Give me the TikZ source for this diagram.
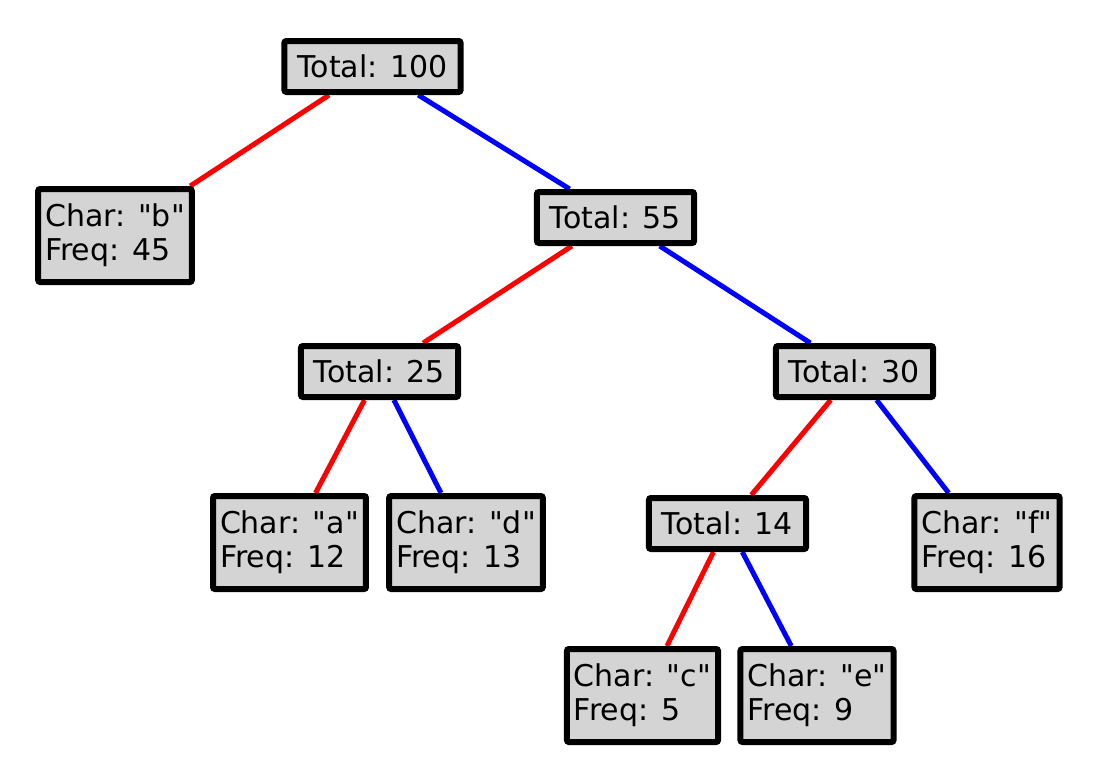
\documentclass[tikz,border=0pt]{standalone}
\usepackage{fontspec}
\setmainfont{DejaVu Sans}
\usepackage{tikz}
\usetikzlibrary{backgrounds}
\usepackage{xcolor}
\newcommand{\dq}{\textquotedbl}
\tikzset{
  box/.style={draw=black, fill=black!17, line width=6pt, rounded corners=2pt, align=left, inner xsep=7pt, font=\fontsize{30}{34}\selectfont},
  totalbox/.style={box, inner xsep=13pt, minimum height=51pt},
  leafbox/.style={box, minimum height=93pt},
  zeroedge/.style={draw=red, line width=5pt},
  oneedge/.style={draw=blue, line width=5pt}
}

\begin{document}
\begin{tikzpicture}[x=1pt, y=-1pt]
\useasboundingbox (0,0) rectangle (1098,780);
\node[totalbox] (total100) at (372.5,66.5) {Total: 100};
\node[leafbox] (charb) at (115,235.5) {Char: \dq b\dq\\Freq: 45};
\node[totalbox] (total55) at (615.5,217.5) {Total: 55};
\node[totalbox] (total25) at (379.5,371.5) {Total: 25};
\node[totalbox] (total30) at (854.5,371.5) {Total: 30};
\node[leafbox] (chara) at (289.5,542.5) {Char: \dq a\dq\\Freq: 12};
\node[leafbox] (chard) at (466,542.5) {Char: \dq d\dq\\Freq: 13};
\node[totalbox] (total14) at (727.5,523.5) {Total: 14};
\node[leafbox] (charf) at (987,542.5) {Char: \dq f\dq\\Freq: 16};
\node[leafbox] (charc) at (642.5,695.5) {Char: \dq c\dq\\Freq: 5};
\node[leafbox] (chare) at (817,695.5) {Char: \dq e\dq\\Freq: 9};
\begin{scope}[on background layer]
\draw[zeroedge] (total100) -- (charb);
\draw[oneedge] (total100) -- (total55);
\draw[zeroedge] (total55) -- (total25);
\draw[oneedge] (total55) -- (total30);
\draw[zeroedge] (total25) -- (chara);
\draw[oneedge] (total25) -- (chard);
\draw[zeroedge] (total30) -- (total14);
\draw[oneedge] (total30) -- (charf);
\draw[zeroedge] (total14) -- (charc);
\draw[oneedge] (total14) -- (chare);
\end{scope}
\end{tikzpicture}
\end{document}
